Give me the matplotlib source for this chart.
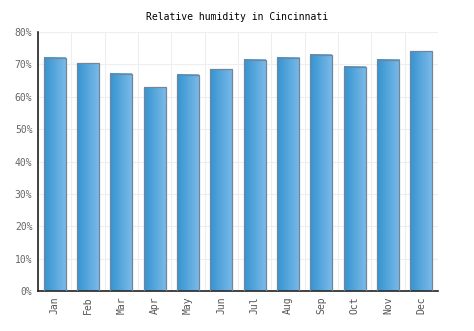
import matplotlib
matplotlib.use("Agg")
import matplotlib.pyplot as plt
import numpy as np
from matplotlib.colors import LinearSegmentedColormap

months = ["Jan", "Feb", "Mar", "Apr", "May", "Jun",
          "Jul", "Aug", "Sep", "Oct", "Nov", "Dec"]
humidity = [72.0, 70.4, 67.1, 63.0, 66.8, 68.5, 71.4, 72.0, 72.9, 69.2, 71.4, 74.1]
y_ticks = [0, 10, 20, 30, 40, 50, 60, 70, 80]

plt.rcParams["font.family"] = ["DejaVu Sans Mono"]

fig = plt.figure(figsize=(4.74, 3.31), dpi=100)
ax = fig.add_axes([38 / 474, 1 - 291 / 331, 400 / 474, 259 / 331])

x = np.arange(len(months))
width = 0.66
grad = LinearSegmentedColormap.from_list("bar", ["#3594d0", "#7ab9e9"])
ramp = np.linspace(0, 1, 64).reshape(1, -1)

bars = ax.bar(x, humidity, width=width, facecolor="none",
              edgecolor="#72869a", linewidth=0.9, zorder=3)
for b in bars:
    x0, y0 = b.get_x(), b.get_y()
    ax.imshow(ramp, cmap=grad, aspect="auto", zorder=2,
              extent=(x0, x0 + b.get_width(), y0, y0 + b.get_height()))

ax.set_xlim(-0.5, len(months) - 0.5)
ax.set_ylim(0, 80)
ax.set_xticks(x)
ax.set_xticklabels(months, rotation=90, fontsize=7, color="#555555")
ax.set_yticks(y_ticks)
ax.set_yticklabels([f"{v}%" for v in y_ticks], fontsize=7, color="#666666")
ax.tick_params(length=0, pad=4)

ax.set_xticks(np.arange(len(months) + 1) - 0.5, minor=True)
ax.grid(True, which="minor", axis="x", color="#eeeeee", linewidth=0.8, zorder=0)
ax.grid(True, which="major", axis="y", color="#eeeeee", linewidth=0.8, zorder=0)
ax.tick_params(which="minor", length=0)

for side in ("top", "right"):
    ax.spines[side].set_visible(False)
ax.spines["left"].set_color("#222222")
ax.spines["bottom"].set_color("#222222")
ax.spines["left"].set_linewidth(1.2)
ax.spines["bottom"].set_linewidth(1.2)

fig.text(0.5, 1 - 17 / 331, "Relative humidity in Cincinnati",
         ha="center", va="center", fontsize=7, color="#000000")

fig.savefig("out.png", dpi=100)
